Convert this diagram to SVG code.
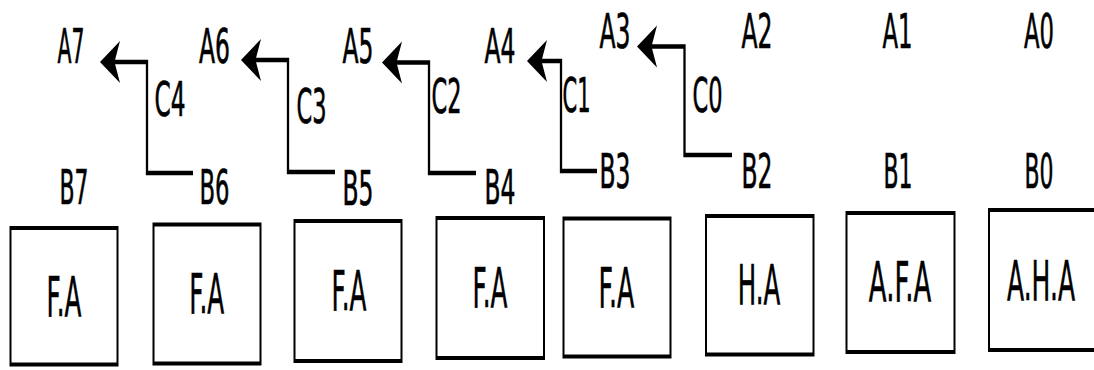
<svg xmlns="http://www.w3.org/2000/svg" width="1094" height="370" viewBox="0 0 1094 370">
<style>
.box{fill:#fff;stroke:#000;stroke-width:4}
.t{font-family:"DejaVu Sans",Verdana,sans-serif;fill:#000;stroke:#000;stroke-width:0.7;text-anchor:middle}
.lbl{font-size:48px}
.ntx{font-size:55px;stroke-width:0.6}
.wire{fill:none;stroke:#000;stroke-width:4.6;marker-end:url(#arr)}
</style>
<defs>
<marker id="arr" markerUnits="userSpaceOnUse" orient="auto" refX="0" refY="0" markerWidth="10" markerHeight="10" overflow="visible">
<path d="M26,0 L-14,-21 L-3,0 L-14,21 Z" fill="#000"/>
</marker>
</defs>
<rect width="1094" height="370" fill="#fff"/>

<g id="connectors" transform="scale(0.5,1)">
<path class="wire" d="M386,173 H294 V62 H226"/>
<path class="wire" d="M670,172 H576 V60 H508"/>
<path class="wire" d="M952,173 H858 V62.5 H790"/>
<path class="wire" d="M1194,171 H1122 V61 H1080"/>
<path class="wire" d="M1464,155 H1369 V46.5 H1300"/>
</g>

<g id="labels" class="t lbl">
<text x="71" y="63" textLength="27" lengthAdjust="spacingAndGlyphs">A7</text>
<text x="214.5" y="63" textLength="31" lengthAdjust="spacingAndGlyphs">A6</text>
<text x="358" y="63" textLength="31" lengthAdjust="spacingAndGlyphs">A5</text>
<text x="500" y="63" textLength="31" lengthAdjust="spacingAndGlyphs">A4</text>
<text x="615" y="48" textLength="31" lengthAdjust="spacingAndGlyphs">A3</text>
<text x="757" y="48" textLength="31" lengthAdjust="spacingAndGlyphs">A2</text>
<text x="897.5" y="48" textLength="30" lengthAdjust="spacingAndGlyphs">A1</text>
<text x="1039" y="48" textLength="30" lengthAdjust="spacingAndGlyphs">A0</text>
<text x="74" y="204" textLength="29" lengthAdjust="spacingAndGlyphs">B7</text>
<text x="214.5" y="204" textLength="30" lengthAdjust="spacingAndGlyphs">B6</text>
<text x="358" y="205" textLength="31" lengthAdjust="spacingAndGlyphs">B5</text>
<text x="500" y="204" textLength="31" lengthAdjust="spacingAndGlyphs">B4</text>
<text x="615" y="188" textLength="31" lengthAdjust="spacingAndGlyphs">B3</text>
<text x="757" y="188" textLength="31" lengthAdjust="spacingAndGlyphs">B2</text>
<text x="898" y="188" textLength="29" lengthAdjust="spacingAndGlyphs">B1</text>
<text x="1039" y="188" textLength="29" lengthAdjust="spacingAndGlyphs">B0</text>
<text x="170" y="116" textLength="31" lengthAdjust="spacingAndGlyphs">C4</text>
<text x="311.5" y="123" textLength="30" lengthAdjust="spacingAndGlyphs">C3</text>
<text x="446.5" y="113" textLength="30" lengthAdjust="spacingAndGlyphs">C2</text>
<text x="576.5" y="112" textLength="28" lengthAdjust="spacingAndGlyphs">C1</text>
<text x="707.5" y="112" textLength="30" lengthAdjust="spacingAndGlyphs">C0</text>
</g>

<g id="node-7" transform="translate(10.5,228)">
<rect class="box" transform="scale(0.5,1)" width="214" height="136.5"/>
<text class="t ntx" transform="translate(53.5,88) scale(0.45,1)">F.A</text>
</g>
<g id="node-6" transform="translate(153.5,224.5)">
<rect class="box" transform="scale(0.5,1)" width="214" height="139"/>
<text class="t ntx" transform="translate(53.2,88.5) scale(0.45,1)">F.A</text>
</g>
<g id="node-5" transform="translate(294.5,221)">
<rect class="box" transform="scale(0.5,1)" width="214" height="140"/>
<text class="t ntx" transform="translate(54.5,89) scale(0.45,1)">F.A</text>
</g>
<g id="node-4" transform="translate(436.5,218)">
<rect class="box" transform="scale(0.5,1)" width="215" height="140"/>
<text class="t ntx" transform="translate(53.5,89) scale(0.45,1)">F.A</text>
</g>
<g id="node-3" transform="translate(563.5,218.5)">
<rect class="box" transform="scale(0.5,1)" width="214" height="138"/>
<text class="t ntx" transform="translate(53,88.5) scale(0.46,1)">F.A</text>
</g>
<g id="node-2" transform="translate(706,216)">
<rect class="box" transform="scale(0.5,1)" width="215" height="138.5"/>
<text class="t ntx" transform="translate(53,88) scale(0.446,1)">H.A</text>
</g>
<g id="node-1" transform="translate(846.5,213)">
<rect class="box" transform="scale(0.5,1)" width="216" height="139"/>
<text class="t ntx" transform="translate(53.5,88) scale(0.472,1)">A.F.A</text>
</g>
<g id="node-0" transform="translate(989,210)">
<rect class="box" transform="scale(0.5,1)" width="214" height="140"/>
<text class="t ntx" transform="translate(52,90) scale(0.455,1)">A.H.A</text>
</g>
</svg>
